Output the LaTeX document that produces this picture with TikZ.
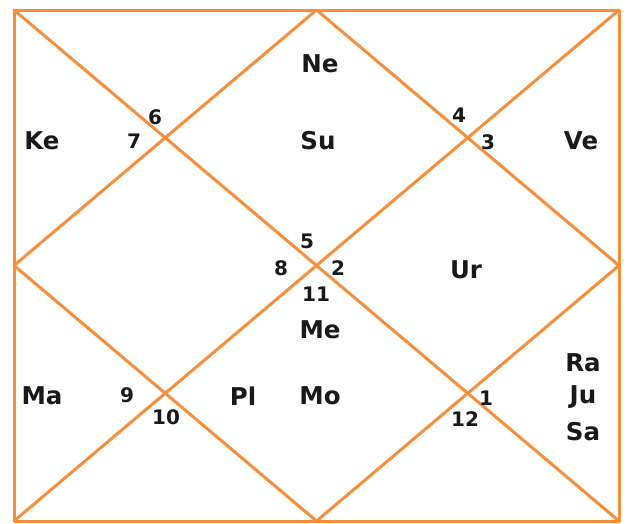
\documentclass[tikz,border=0pt]{standalone}
\usepackage{fontspec}
\setmainfont{DejaVu Sans}
\definecolor{chartorange}{RGB}{246,142,60}
\begin{document}
\begin{tikzpicture}[x=1pt,y=-1pt,
  chartline/.style={draw=chartorange,line width=3pt,line cap=round,line join=round},
  planet/.style={font=\fontsize{24.5}{27}\selectfont\bfseries,text=black!90,inner sep=0pt},
  housenum/.style={font=\fontsize{20}{22}\selectfont\bfseries,text=black!90,inner sep=0pt}]
\useasboundingbox (0,0) rectangle (628,523);
\coordinate (tl) at (14,10);
\coordinate (tr) at (619,10);
\coordinate (bl) at (14,521);
\coordinate (br) at (619,521);
\coordinate (tm) at (316.5,10);
\coordinate (bm) at (316.5,521);
\coordinate (lm) at (14,265.5);
\coordinate (rm) at (619,265.5);
\draw[chartline] (tl) -- (tr) -- (br) -- (bl) -- cycle;
\draw[chartline] (tl) -- (br);
\draw[chartline] (tr) -- (bl);
\draw[chartline] (tm) -- (rm) -- (bm) -- (lm) -- cycle;
% planets
\node[planet] (ne) at (320,64) {Ne};
\node[planet] (su) at (318,141) {Su};
\node[planet] (ke) at (42,141) {Ke};
\node[planet] (ve) at (581,141) {Ve};
\node[planet] (ur) at (466,270) {Ur};
\node[planet] (me) at (320,330) {Me};
\node[planet] (ma) at (42,396) {Ma};
\node[planet] (pl) at (243,396) {Pl};
\node[planet] (mo) at (320,396) {Mo};
\node[planet] (ra) at (583,363) {Ra};
\node[planet] (ju) at (583,397) {Ju};
\node[planet] (sa) at (583,432) {Sa};
% house numbers
\node[housenum] (h6) at (155,117) {6};
\node[housenum] (h7) at (134,141) {7};
\node[housenum] (h4) at (459,115) {4};
\node[housenum] (h3) at (488,142) {3};
\node[housenum] (h5) at (307,241) {5};
\node[housenum] (h8) at (281,268) {8};
\node[housenum] (h2) at (338,268) {2};
\node[housenum] (h11) at (316,294) {11};
\node[housenum] (h9) at (127,395) {9};
\node[housenum] (h10) at (166,417) {10};
\node[housenum] (h1) at (486,398) {1};
\node[housenum] (h12) at (465,419) {12};
\end{tikzpicture}
\end{document}
